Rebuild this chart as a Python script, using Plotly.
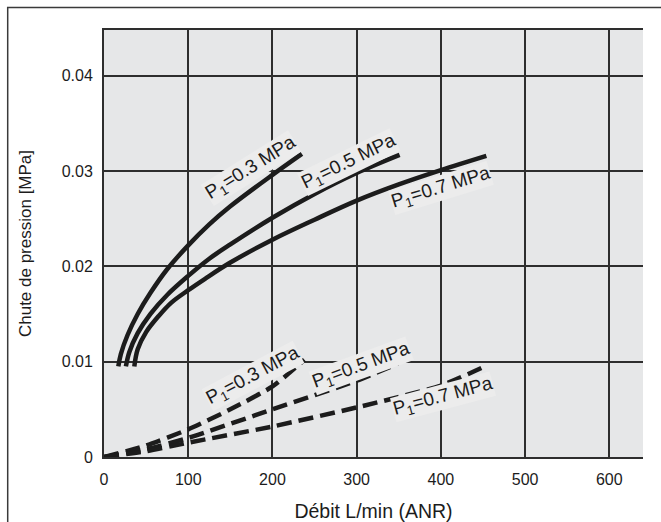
"""Pressure drop vs flow rate chart (Plotly)."""

import plotly.graph_objects as go

# solid curves (upper group)
solid_03_x = [17, 20, 28, 40, 55, 75, 100, 125, 150, 200, 235]
solid_03_y = [0.0095, 0.0108, 0.0128, 0.0150, 0.0172, 0.0197, 0.0222, 0.0244, 0.0263, 0.0296, 0.0318]
solid_05_x = [26, 30, 40, 55, 75, 100, 125, 150, 200, 250, 300, 351]
solid_05_y = [0.0095, 0.0110, 0.0130, 0.0150, 0.0170, 0.0190, 0.0208, 0.0223, 0.0251, 0.0276, 0.0298, 0.0317]
solid_07_x = [36, 40, 50, 65, 80, 100, 120, 150, 200, 250, 300, 350, 400, 454]
solid_07_y = [0.0095, 0.0113, 0.0131, 0.0148, 0.0162, 0.0175, 0.0187, 0.0204, 0.0228, 0.0249, 0.0269, 0.0286, 0.0301, 0.0316]

# dashed curves (lower group)
dash_03_x = [0, 50, 100, 150, 200, 238]
dash_03_y = [0.0, 0.0012, 0.0029, 0.0050, 0.0074, 0.0102]
dash_05_x = [0, 50, 100, 200, 300, 349]
dash_05_y = [0.0, 0.0008, 0.0020, 0.0050, 0.0080, 0.0098]
dash_07_x = [0, 50, 100, 200, 300, 400, 452]
dash_07_y = [0.0, 0.0006, 0.0015, 0.0032, 0.0052, 0.0075, 0.0095]

x_ticks = [0, 100, 200, 300, 400, 500, 600]
y_ticks = [0, 0.01, 0.02, 0.03, 0.04]
y_tick_labels = ["0", "0.01", "0.02", "0.03", "0.04"]

# label text, x, y, angle
labels = [
    ("P<sub>1</sub>=0.3 MPa", 175, 0.0303, -32),
    ("P<sub>1</sub>=0.5 MPa", 291, 0.0309, -26),
    ("P<sub>1</sub>=0.7 MPa", 400, 0.0282, -17),
    ("P<sub>1</sub>=0.3 MPa", 177, 0.0085, -28),
    ("P<sub>1</sub>=0.5 MPa", 305, 0.0096, -20),
    ("P<sub>1</sub>=0.7 MPa", 402, 0.0063, -15),
]

FONT = "Liberation Sans, Arial, sans-serif"
INK = "#1c1c1c"
GRID = "#2e2e2e"
PLOT_BG = "#e6e7e8"

fig = go.Figure()

for xs, ys in [(solid_03_x, solid_03_y), (solid_05_x, solid_05_y), (solid_07_x, solid_07_y)]:
    fig.add_trace(
        go.Scatter(
            x=xs, y=ys, mode="lines",
            line={"color": INK, "width": 4.5, "shape": "spline", "smoothing": 1.0},
            showlegend=False, hoverinfo="skip",
        )
    )

for xs, ys in [(dash_03_x, dash_03_y), (dash_05_x, dash_05_y), (dash_07_x, dash_07_y)]:
    fig.add_trace(
        go.Scatter(
            x=xs, y=ys, mode="lines",
            line={"color": INK, "width": 4.5, "dash": "15px,7px", "shape": "spline", "smoothing": 0.6},
            showlegend=False, hoverinfo="skip",
        )
    )

for text, lx, ly, ang in labels:
    fig.add_annotation(
        x=lx, y=ly, text=text, showarrow=False, textangle=ang,
        font={"family": FONT, "size": 19, "color": INK},
        bgcolor="#ececec", borderpad=0,
    )

# outer frame, only its left and top edges fall inside the picture
fig.add_shape(
    type="rect", xref="paper", yref="paper",
    x0=(8 - 104.3) / 539, x1=2, y0=-1, y1=1 + (30 - 7.5) / 427.3,
    line={"color": "#3a3a3a", "width": 1.5}, fillcolor="rgba(0,0,0,0)", layer="below",
)

fig.update_layout(
    width=661,
    height=522,
    autosize=False,
    paper_bgcolor="white",
    plot_bgcolor=PLOT_BG,
    margin={"l": 104, "r": 18, "t": 30, "b": 65},
    font={"family": FONT, "size": 16, "color": INK},
    xaxis={
        "range": [0, 640],
        "tickvals": x_ticks,
        "automargin": False,
        "showgrid": True, "gridcolor": GRID, "gridwidth": 2,
        "zeroline": False,
        "showline": True, "linecolor": GRID, "linewidth": 2, "mirror": True,
        "ticks": "", "ticklabelstandoff": 7,
        "title": {"text": "Débit L/min (ANR)", "font": {"size": 19.5}, "standoff": 18},
    },
    yaxis={
        "range": [0, 0.0448],
        "tickvals": y_ticks, "ticktext": y_tick_labels,
        "automargin": False,
        "showgrid": True, "gridcolor": GRID, "gridwidth": 2,
        "zeroline": False,
        "showline": True, "linecolor": GRID, "linewidth": 2,
        "ticks": "", "ticklabelstandoff": 6,
        "title": {"text": "Chute de pression [MPa]", "font": {"size": 17}, "standoff": 26},
    },
)

fig.write_html(
    "out.html",
    config={"displayModeBar": False},
    post_script="document.body.style.margin='0';",
)
